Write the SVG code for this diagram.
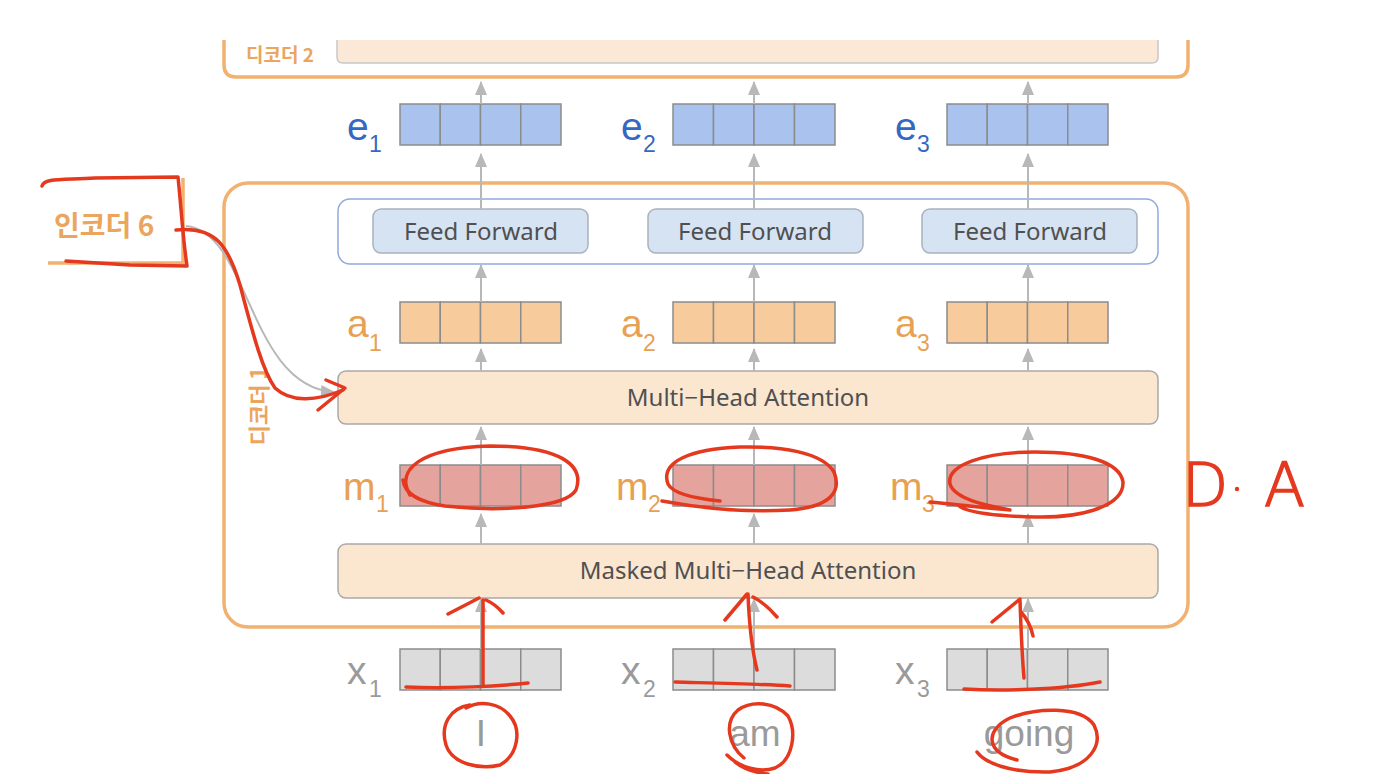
<svg xmlns="http://www.w3.org/2000/svg" width="1386" height="774" viewBox="0 0 1386 774">
<defs>
<style>
.lat{font-family:"Noto Sans","Noto Sans CJK KR",sans-serif}
.ar{font-family:"Liberation Sans",Arial,sans-serif}
.kr{font-family:"Noto Sans CJK KR","Noto Sans",sans-serif;font-weight:700;fill:#EBA55C}
.box{fill:#FBE6D0;stroke:#A9A9A9;stroke-width:1.5}
.ffbox{fill:#D6E3F3;stroke:#A9B2BF;stroke-width:1.5}
.lbl{font-size:24px;fill:#505050;text-anchor:middle}
.cell{stroke:#8C8C8C;stroke-width:1.5}
.e{fill:#A9C3EE}.a{fill:#F7CB9C}.m{fill:#E4A39C}.x{fill:#DCDCDC}
.vl{font-size:39px}.vs{font-size:23px}
.eb{fill:#3568C0}.ab{fill:#E8A052}.xb{fill:#9A9A9A}
.arr{stroke:#B8B8B8;stroke-width:2;fill:none}
.orange{fill:none;stroke:#F1B170;stroke-width:3.5}
.red{fill:none;stroke:#E5391F;stroke-width:3.5;stroke-linecap:round;stroke-linejoin:round}
.word{font-size:37px;fill:#9A9A9A;text-anchor:middle}
</style>
<marker id="gh" viewBox="0 0 14 12" refX="13" refY="6" markerWidth="14" markerHeight="12" markerUnits="userSpaceOnUse" orient="auto"><path d="M0,0 L14,6 L0,12 Z" fill="#B8B8B8"/></marker>
</defs>
<rect width="1386" height="774" fill="#fff"/>

<!-- Decoder 2 (cropped) -->
<g id="decoder2">
<path class="orange" d="M224,40 V65 Q224,77 236,77 H1176 Q1188,77 1188,65 V40"/>
<path d="M337,40 V57 Q337,63 343,63 H1152 Q1158,63 1158,57 V40 Z" fill="#FBE8D6"/>
<path d="M337,40 V57 Q337,63 343,63 H1152 Q1158,63 1158,57 V40" fill="none" stroke="#C8C8C8" stroke-width="1.5"/>
<text class="kr" x="246" y="62" font-size="19">디코더 2</text>
</g>

<!-- Decoder 1 -->
<g id="decoder1">
<rect class="orange" x="224" y="183" width="964" height="444" rx="24"/>
<text class="kr" font-size="22" font-weight="500" transform="translate(267,406) rotate(-90)" text-anchor="middle">디코더 1</text>
</g>

<!-- Encoder 6 -->
<g id="encoder6">
<path class="orange" d="M48,263 H183 V178"/>
<text class="kr" x="54" y="236" font-size="28">인코더 6</text>
</g>

<g id="ff-group">
<rect x="338" y="199" width="820" height="65" rx="12" fill="none" stroke="#8EA9DE" stroke-width="1.5"/>
</g>
<g id="ff1"><rect class="ffbox" x="373" y="209" width="215" height="44" rx="8"/><text class="lat lbl" x="481" y="240">Feed Forward</text></g>
<g id="ff2"><rect class="ffbox" x="648" y="209" width="215" height="44" rx="8"/><text class="lat lbl" x="755" y="240">Feed Forward</text></g>
<g id="ff3"><rect class="ffbox" x="922" y="209" width="215" height="44" rx="8"/><text class="lat lbl" x="1030" y="240">Feed Forward</text></g>

<g id="mha"><rect class="box" x="338" y="371" width="820" height="53" rx="8"/><text class="lat lbl" x="748" y="406">Multi−Head Attention</text></g>
<g id="masked-mha"><rect class="box" x="338" y="544" width="820" height="54" rx="8"/><text class="lat lbl" x="748" y="579">Masked Multi−Head Attention</text></g>

<!-- vectors -->
<g id="e1"><g class="e"><rect class="cell" x="400" y="104" width="40.25" height="41"/><rect class="cell" x="440.25" y="104" width="40.25" height="41"/><rect class="cell" x="480.5" y="104" width="40.25" height="41"/><rect class="cell" x="520.75" y="104" width="40.25" height="41"/></g><text class="ar eb"><tspan class="vl" x="347" y="140">e</tspan><tspan class="vs" x="369" y="152">1</tspan></text></g>
<g id="e2"><g class="e"><rect class="cell" x="673" y="104" width="40.5" height="41"/><rect class="cell" x="713.5" y="104" width="40.5" height="41"/><rect class="cell" x="754" y="104" width="40.5" height="41"/><rect class="cell" x="794.5" y="104" width="40.5" height="41"/></g><text class="ar eb"><tspan class="vl" x="621" y="140">e</tspan><tspan class="vs" x="643" y="152">2</tspan></text></g>
<g id="e3"><g class="e"><rect class="cell" x="947" y="104" width="40.25" height="41"/><rect class="cell" x="987.25" y="104" width="40.25" height="41"/><rect class="cell" x="1027.5" y="104" width="40.25" height="41"/><rect class="cell" x="1067.75" y="104" width="40.25" height="41"/></g><text class="ar eb"><tspan class="vl" x="895" y="140">e</tspan><tspan class="vs" x="917" y="152">3</tspan></text></g>

<g id="a1"><g class="a"><rect class="cell" x="400" y="302" width="40.25" height="41"/><rect class="cell" x="440.25" y="302" width="40.25" height="41"/><rect class="cell" x="480.5" y="302" width="40.25" height="41"/><rect class="cell" x="520.75" y="302" width="40.25" height="41"/></g><text class="ar ab"><tspan class="vl" x="347" y="337">a</tspan><tspan class="vs" x="369" y="351">1</tspan></text></g>
<g id="a2"><g class="a"><rect class="cell" x="673" y="302" width="40.5" height="41"/><rect class="cell" x="713.5" y="302" width="40.5" height="41"/><rect class="cell" x="754" y="302" width="40.5" height="41"/><rect class="cell" x="794.5" y="302" width="40.5" height="41"/></g><text class="ar ab"><tspan class="vl" x="621" y="337">a</tspan><tspan class="vs" x="643" y="351">2</tspan></text></g>
<g id="a3"><g class="a"><rect class="cell" x="947" y="302" width="40.25" height="41"/><rect class="cell" x="987.25" y="302" width="40.25" height="41"/><rect class="cell" x="1027.5" y="302" width="40.25" height="41"/><rect class="cell" x="1067.75" y="302" width="40.25" height="41"/></g><text class="ar ab"><tspan class="vl" x="895" y="337">a</tspan><tspan class="vs" x="917" y="351">3</tspan></text></g>

<g id="m1"><g class="m"><rect class="cell" x="400" y="465" width="40.25" height="41"/><rect class="cell" x="440.25" y="465" width="40.25" height="41"/><rect class="cell" x="480.5" y="465" width="40.25" height="41"/><rect class="cell" x="520.75" y="465" width="40.25" height="41"/></g><text class="ar ab"><tspan class="vl" x="343" y="500">m</tspan><tspan class="vs" x="376" y="512">1</tspan></text></g>
<g id="m2"><g class="m"><rect class="cell" x="673" y="465" width="40.5" height="41"/><rect class="cell" x="713.5" y="465" width="40.5" height="41"/><rect class="cell" x="754" y="465" width="40.5" height="41"/><rect class="cell" x="794.5" y="465" width="40.5" height="41"/></g><text class="ar ab"><tspan class="vl" x="616" y="500">m</tspan><tspan class="vs" x="648" y="512">2</tspan></text></g>
<g id="m3"><g class="m"><rect class="cell" x="947" y="465" width="40.25" height="41"/><rect class="cell" x="987.25" y="465" width="40.25" height="41"/><rect class="cell" x="1027.5" y="465" width="40.25" height="41"/><rect class="cell" x="1067.75" y="465" width="40.25" height="41"/></g><text class="ar ab"><tspan class="vl" x="890" y="500">m</tspan><tspan class="vs" x="922" y="512">3</tspan></text></g>

<g id="x1"><g class="x"><rect class="cell" x="400" y="649" width="40.25" height="41"/><rect class="cell" x="440.25" y="649" width="40.25" height="41"/><rect class="cell" x="480.5" y="649" width="40.25" height="41"/><rect class="cell" x="520.75" y="649" width="40.25" height="41"/></g><text class="ar xb"><tspan class="vl" x="347" y="684">x</tspan><tspan class="vs" x="369" y="697">1</tspan></text></g>
<g id="x2"><g class="x"><rect class="cell" x="673" y="649" width="40.5" height="41"/><rect class="cell" x="713.5" y="649" width="40.5" height="41"/><rect class="cell" x="754" y="649" width="40.5" height="41"/><rect class="cell" x="794.5" y="649" width="40.5" height="41"/></g><text class="ar xb"><tspan class="vl" x="621" y="684">x</tspan><tspan class="vs" x="643" y="697">2</tspan></text></g>
<g id="x3"><g class="x"><rect class="cell" x="947" y="649" width="40.25" height="41"/><rect class="cell" x="987.25" y="649" width="40.25" height="41"/><rect class="cell" x="1027.5" y="649" width="40.25" height="41"/><rect class="cell" x="1067.75" y="649" width="40.25" height="41"/></g><text class="ar xb"><tspan class="vl" x="895" y="684">x</tspan><tspan class="vs" x="917" y="697">3</tspan></text></g>

<g id="words">
<text class="ar word" x="481" y="746">I</text>
<text class="ar word" x="755" y="746">am</text>
<text class="ar word" x="1029" y="746">going</text>
</g>

<!-- connectors -->
<g id="connectors">
<path class="arr" marker-end="url(#gh)" d="M481,104 V82"/><path class="arr" marker-end="url(#gh)" d="M754,104 V82"/><path class="arr" marker-end="url(#gh)" d="M1028,104 V82"/>
<path class="arr" marker-end="url(#gh)" d="M481,209 V154"/><path class="arr" marker-end="url(#gh)" d="M754,209 V154"/><path class="arr" marker-end="url(#gh)" d="M1028,209 V154"/>
<path class="arr" marker-end="url(#gh)" d="M481,302 V265"/><path class="arr" marker-end="url(#gh)" d="M754,302 V265"/><path class="arr" marker-end="url(#gh)" d="M1028,302 V265"/>
<path class="arr" marker-end="url(#gh)" d="M481,371 V349"/><path class="arr" marker-end="url(#gh)" d="M754,371 V349"/><path class="arr" marker-end="url(#gh)" d="M1028,371 V349"/>
<path class="arr" marker-end="url(#gh)" d="M481,465 V427"/><path class="arr" marker-end="url(#gh)" d="M754,465 V427"/><path class="arr" marker-end="url(#gh)" d="M1028,465 V427"/>
<path class="arr" marker-end="url(#gh)" d="M481,544 V514"/><path class="arr" marker-end="url(#gh)" d="M754,544 V514"/><path class="arr" marker-end="url(#gh)" d="M1028,544 V514"/>
<path class="arr" marker-end="url(#gh)" d="M481,649 V599"/><path class="arr" marker-end="url(#gh)" d="M754,649 V599"/><path class="arr" marker-end="url(#gh)" d="M1028,649 V599"/>
<path class="arr" stroke-width="1.5" marker-end="url(#gh)" d="M186,226 C250,232 248,386 334,392"/>
</g>

<!-- red annotations -->
<g id="annotations">
<path class="red" d="M42,186 C44,178 60,180 95,178 L178,177 C181,205 183,240 187,266 L130,265 L66,261"/>
<path class="red" d="M176,230 C215,226 228,245 240,285 C252,330 262,370 275,388 C290,402 315,402 343,390"/>
<path class="red" d="M326,380 L345,388 L318,410"/>
<path class="red" d="M410,495 C395,470 420,448 490,446 C560,446 585,465 576,490 C565,508 500,512 445,506 C425,503 405,497 403,480"/>
<path class="red" d="M662,501 C700,508 740,513 790,510 C830,507 842,492 834,472 C822,452 780,446 740,447 C690,449 660,462 668,484 C672,492 690,498 720,501"/>
<path class="red" d="M930,502 C960,505 985,508 1010,510 C990,506 955,500 950,484 C946,465 985,452 1035,452 C1085,452 1120,462 1123,482 C1124,505 1085,518 1035,517 C995,516 965,512 958,505"/>
<path class="red" d="M483,685 V600 M448,614 L479,598 M486,600 Q495,604 503,613 M406,687 C450,689 500,686 528,683"/>
<path class="red" d="M757,670 C752,650 749,620 748,594 M725,620 L747,594 M753,597 Q765,603 777,617 M675,682 C710,683 760,684 790,686"/>
<path class="red" d="M1024,678 C1022,655 1021,630 1020,600 M992,622 L1020,599 M1021,612 Q1030,622 1033,636 M964,689 C1000,691 1060,690 1100,682"/>
<path class="red" d="M470,705 C450,708 440,725 446,745 C452,764 480,770 500,765 C518,755 522,730 510,716 C500,703 480,700 466,708"/>
<path class="red" d="M744,758 C728,745 724,722 738,710 C752,700 775,702 788,716 C797,732 793,760 775,768 C760,773 740,768 727,755 M735,762 Q748,772 768,774"/>
<path class="red" d="M1017,760 C985,752 985,730 1010,718 C1035,708 1080,705 1094,725 C1104,745 1090,768 1050,772 C1010,773 985,763 977,752"/>
<text x="1182" y="506" font-family="DejaVu Sans, sans-serif" font-size="60" font-weight="200" fill="#E5391F" stroke="#E5391F" stroke-width="1.5">D</text>
<circle cx="1237" cy="489" r="2.2" fill="#E5391F"/>
<text x="1264" y="506" font-family="DejaVu Sans, sans-serif" font-size="60" font-weight="200" fill="#E5391F" stroke="#E5391F" stroke-width="1.5">A</text>
</g>
</svg>
